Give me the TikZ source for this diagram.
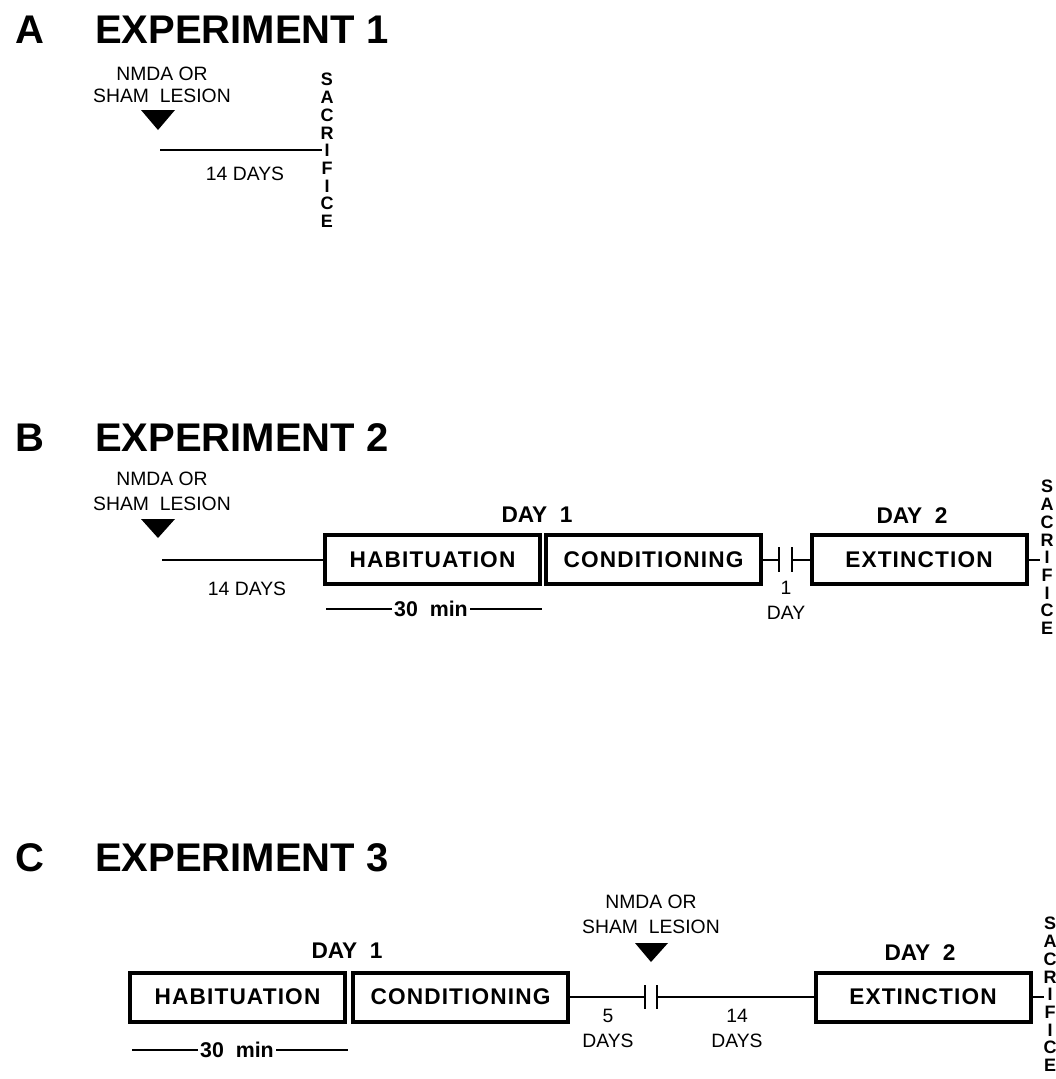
\documentclass[tikz,border=0pt]{standalone}
\usepackage{fontspec}
\setmainfont{Liberation Sans}
\newfontfamily\trackfont{Liberation Sans}[LetterSpace=5]
\begin{document}
\begin{tikzpicture}[x=0.75pt,y=-0.75pt,
  title/.style={font=\bfseries\fontsize{30}{36}\selectfont, inner sep=0, anchor=base west},
  lbl/.style={font=\fontsize{14.5}{18.75}\selectfont, inner sep=0, align=center},
  daylbl/.style={font=\bfseries\fontsize{17}{20}\selectfont, inner sep=0, anchor=base},
  phase/.style={draw, line width=3pt, minimum width=161.25pt, minimum height=36.75pt, inner sep=0,
    font=\trackfont\bfseries\fontsize{17}{20}\selectfont},
  sac/.style={font=\bfseries\fontsize{13.5}{13.3}\selectfont, inner sep=0, align=center, anchor=north},
  tl/.style={line width=1.5pt},
  tickmark/.style={line width=2.2pt},
  dur/.style={font=\bfseries\fontsize{16}{19}\selectfont, inner sep=1.5pt},
]
\useasboundingbox[fill=white] (0,0) rectangle (1056,1079);

% ---------------- Panel A ----------------
\node[title] (tA) at (15,43) {A};
\node[title] (eA) at (95,43) {EXPERIMENT 1};
\node[lbl, anchor=north, font=\fontsize{14.5}{16.5}\selectfont] (lesA) at (162,67) {NMDA OR\\SHAM\ \ LESION};
\fill (141,110) -- (175,110) -- (158,130) -- cycle;
\coordinate (sA) at (160,150);
\coordinate (eAl) at (322,150);
\draw[tl] (sA) -- (eAl);
\node[lbl, anchor=base] (dA) at (245,180) {14 DAYS};
\node[sac] (sacA) at (327,73) {S\\A\\C\\R\\I\\F\\I\\C\\E};

% ---------------- Panel B ----------------
\node[title] (tB) at (15,451) {B};
\node[title] (eB) at (95,451) {EXPERIMENT 2};
\node[lbl, anchor=north] (lesB) at (162,472) {NMDA OR\\SHAM\ \ LESION};
\fill (141,519) -- (175,519) -- (158,538) -- cycle;
\node[phase] (habB) at (432.5,559.5) {HABITUATION};
\node[phase] (condB) at (653.5,559.5) {CONDITIONING};
\node[phase] (extB) at (919,559.5) {EXTINCTION};
\coordinate (sB) at (162,559.5);
\draw[tl] (sB) -- (habB.west);
\node[lbl, anchor=base] (dB) at (247,595) {14 DAYS};
\node[daylbl] (day1B) at (537,522) {DAY\ \ 1};
\node[daylbl] (day2B) at (912,523) {DAY\ \ 2};
\node[dur] (mB) at (431,608.5) {30\ \ min};
\coordinate (mB1) at (326,608.5);
\coordinate (mB2) at (542,608.5);
\draw[tl] (mB1) -- (mB.west);
\draw[tl] (mB.east) -- (mB2);
\coordinate (tB1) at (779,559.5);
\coordinate (tB2) at (792,559.5);
\draw[tl] (condB.east) -- (tB1);
\draw[tickmark] (779,547) -- (779,572);
\draw[tickmark] (792,547) -- (792,572);
\draw[tl] (tB2) -- (extB.west);
\node[lbl, anchor=north] (gapB) at (786,581) {1\\DAY};
\coordinate (eBl) at (1040,559.5);
\draw[tl] (extB.east) -- (eBl);
\node[sac] (sacB) at (1047,480) {S\\A\\C\\R\\I\\F\\I\\C\\E};

% ---------------- Panel C ----------------
\node[title] (tC) at (15,871) {C};
\node[title] (eC) at (95,871) {EXPERIMENT 3};
\node[phase] (habC) at (237.5,997) {HABITUATION};
\node[phase] (condC) at (460.5,997) {CONDITIONING};
\node[phase] (extC) at (923,997) {EXTINCTION};
\node[daylbl] (day1C) at (347,958) {DAY\ \ 1};
\node[daylbl] (day2C) at (920,960) {DAY\ \ 2};
\node[dur] (mC) at (237,1050) {30\ \ min};
\coordinate (mC1) at (132,1050);
\coordinate (mC2) at (348,1050);
\draw[tl] (mC1) -- (mC.west);
\draw[tl] (mC.east) -- (mC2);
\coordinate (tC1) at (645,997);
\coordinate (tC2) at (657,997);
\draw[tl] (condC.east) -- (tC1);
\draw[tickmark] (645,985) -- (645,1009);
\draw[tickmark] (657,985) -- (657,1009);
\draw[tl] (tC2) -- (extC.west);
\node[lbl, anchor=north] (lesC) at (651,895) {NMDA OR\\SHAM\ \ LESION};
\fill (635,943) -- (668,943) -- (651,962) -- cycle;
\node[lbl, anchor=north] (d5C) at (608,1009) {5\\DAYS};
\node[lbl, anchor=north] (d14C) at (737,1009) {14\\DAYS};
\coordinate (eCl) at (1044,997);
\draw[tl] (extC.east) -- (eCl);
\node[sac] (sacC) at (1050,917) {S\\A\\C\\R\\I\\F\\I\\C\\E};
\end{tikzpicture}
\end{document}
